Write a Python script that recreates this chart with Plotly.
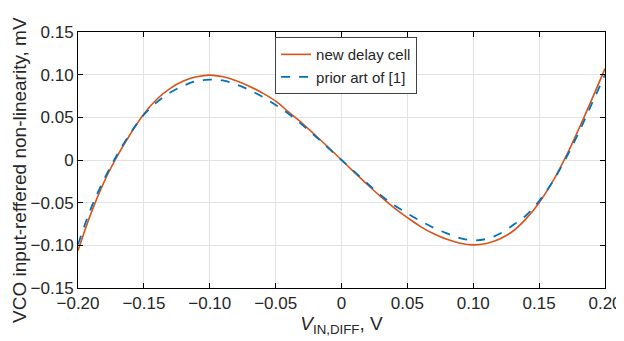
import plotly.graph_objects as go

x_vals = [-0.20, -0.19, -0.18, -0.17, -0.16, -0.15, -0.14, -0.13, -0.12, -0.11, -0.10,
          -0.09, -0.08, -0.07, -0.06, -0.05, -0.04, -0.03, -0.02, -0.01, 0.00,
          0.01, 0.02, 0.03, 0.04, 0.05, 0.06, 0.07, 0.08, 0.09, 0.10,
          0.11, 0.12, 0.13, 0.14, 0.15, 0.16, 0.17, 0.18, 0.19, 0.20]

new_cell = [-0.106, -0.062, -0.025, 0.005, 0.031, 0.054, 0.0715, 0.084, 0.0925, 0.0975, 0.0995,
            0.0975, 0.093, 0.0865, 0.0785, 0.069, 0.056, 0.0432, 0.0293, 0.0148, 0.0,
            -0.0148, -0.0293, -0.0432, -0.056, -0.0675, -0.078, -0.0865, -0.093, -0.0975, -0.0995,
            -0.0978, -0.0925, -0.0835, -0.069, -0.050, -0.026, 0.003, 0.036, 0.071, 0.107]

prior_art = [-0.099, -0.056, -0.022, 0.007, 0.032, 0.053, 0.068, 0.079, 0.087, 0.0925, 0.0942,
             0.0932, 0.0885, 0.082, 0.074, 0.0645, 0.054, 0.0415, 0.028, 0.014, 0.0,
             -0.014, -0.028, -0.0415, -0.053, -0.0625, -0.0715, -0.0795, -0.086, -0.0915, -0.0941,
             -0.0925, -0.0865, -0.0765, -0.065, -0.048, -0.026, 0.001, 0.032, 0.066, 0.100]

x_ticks = [-0.20, -0.15, -0.10, -0.05, 0, 0.05, 0.10, 0.15, 0.20]
x_ticktext = ["\u22120.20", "\u22120.15", "\u22120.10", "\u22120.05", "0", "0.05", "0.10", "0.15", "0.20"]
y_ticks = [-0.15, -0.10, -0.05, 0, 0.05, 0.10, 0.15]
y_ticktext = ["\u22120.15", "\u22120.10", "\u22120.05", "0", "0.05", "0.10", "0.15"]

y_title = "VCO input-reffered non-linearity, mV"
x_title = "<i>V</i><sub>IN,DIFF</sub>, V"

font_family = "Liberation Sans, Arial, sans-serif"
text_color = "#262626"

fig = go.Figure()
fig.add_trace(go.Scatter(x=x_vals, y=new_cell, mode="lines", name="new delay cell",
                         line=dict(color="#D95319", width=1.6, shape="spline", smoothing=1)))
fig.add_trace(go.Scatter(x=x_vals, y=prior_art, mode="lines", name="prior art of [1]",
                         line=dict(color="#0072BD", width=1.8, dash="dash", shape="spline", smoothing=1)))

axis_common = dict(
    showline=True, linecolor="black", linewidth=1, mirror="ticks",
    ticks="inside", ticklen=5, tickcolor="black",
    showgrid=True, gridcolor="#e3e3e3", gridwidth=1,
    zeroline=False, automargin=False,
    tickfont=dict(family=font_family, size=17, color=text_color),
)

fig.update_xaxes(range=[-0.2, 0.2], tickvals=x_ticks, ticktext=x_ticktext,
                 title=dict(text=x_title,
                            font=dict(family=font_family, size=19, color=text_color),
                            standoff=0),
                 **axis_common)
fig.update_yaxes(range=[-0.15, 0.15], tickvals=y_ticks, ticktext=y_ticktext,
                 **axis_common)

fig.add_annotation(text=y_title, xref="paper", yref="paper",
                   x=-0.1101, y=0.461, xanchor="center", yanchor="middle",
                   textangle=-90, showarrow=False, borderpad=0,
                   font=dict(family=font_family, size=19, color=text_color))

# the page body adds an 8px offset; margins compensate so the plot area sits at 78..605 x 32..288
fig.update_layout(
    width=624, height=341,
    margin=dict(l=70, r=27, t=24, b=61),
    paper_bgcolor="white", plot_bgcolor="white",
    font=dict(family=font_family, size=15, color=text_color),
    showlegend=True,
    legend=dict(x=0.374, y=0.98, xanchor="left", yanchor="top",
                bgcolor="white", bordercolor="#404040", borderwidth=1,
                font=dict(family=font_family, size=15, color=text_color),
                tracegroupgap=0, itemwidth=30),
)

fig.write_html("out.html")
